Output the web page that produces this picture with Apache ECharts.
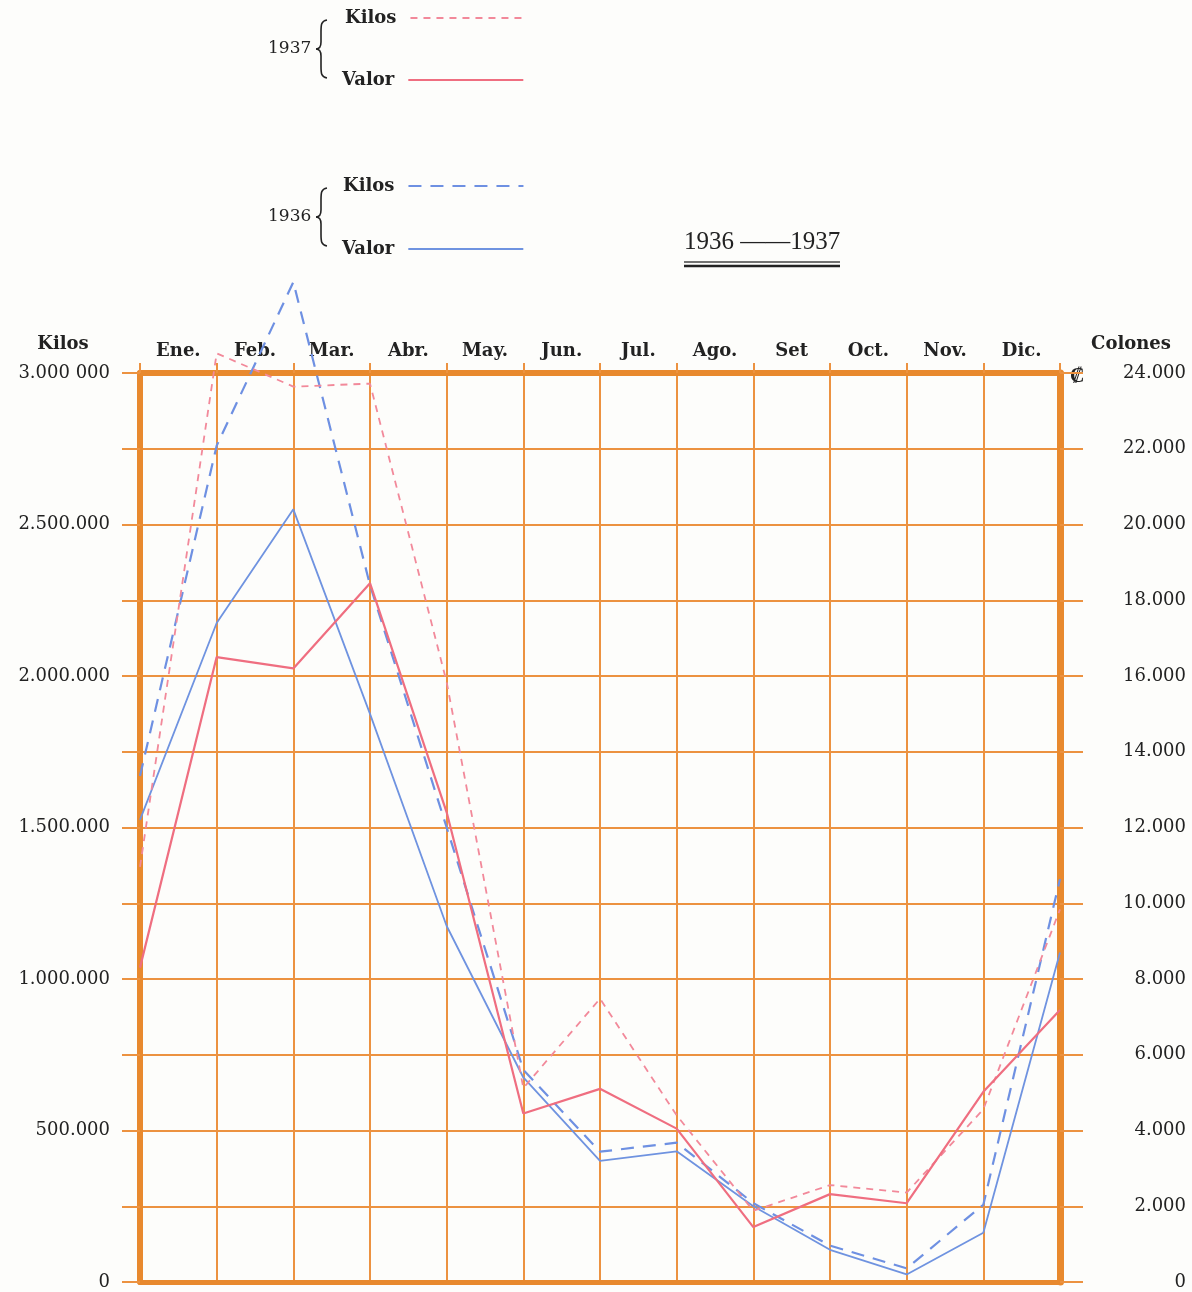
<!DOCTYPE html>
<html>
<head>
<meta charset="utf-8">
<script src="https://cdn.jsdelivr.net/npm/echarts@6/dist/echarts.min.js"></script>
<style>
  html, body { margin: 0; padding: 0; background: #fdfdfb; }
  #chart { width: 1192px; height: 1292px; }
</style>
</head>
<body>
<div id="chart"></div>
<script>
// ---- data ----
const months = ['Ene.', 'Feb.', 'Mar.', 'Abr.', 'May.', 'Jun.', 'Jul.', 'Ago.', 'Set', 'Oct.', 'Nov.', 'Dic.'];
const pointDates = ['1 Ene', '1 Feb', '1 Mar', '1 Abr', '1 May', '1 Jun', '1 Jul', '1 Ago', '1 Set', '1 Oct', '1 Nov', '1 Dic', '31 Dic'];
const kilos1937 = [1370000, 3065000, 2955000, 2965000, 1980000, 640000, 935000, 550000, 235000, 320000, 295000, 570000, 1230000];
const valor1937 = [8300, 16500, 16200, 18450, 12400, 4450, 5100, 4050, 1450, 2320, 2080, 5020, 7180];
const kilos1936 = [1670000, 2760000, 3300000, 2300000, 1500000, 700000, 430000, 460000, 260000, 120000, 45000, 255000, 1330000];
const valor1936 = [12200, 17400, 20400, 15000, 9400, 5400, 3200, 3450, 2000, 850, 200, 1300, 8700];
const kilosTicks = [0, 500000, 1000000, 1500000, 2000000, 2500000, 3000000];
const kilosTickLabels = ['0', '500.000', '1.000.000', '1.500.000', '2.000.000', '2.500.000', '3.000 000'];
const colonesTicks = [0, 2000, 4000, 6000, 8000, 10000, 12000, 14000, 16000, 18000, 20000, 22000, 24000];
const colonesTickLabels = ['0', '2.000', '4.000', '6.000', '8.000', '10.000', '12.000', '14.000', '16.000', '18.000', '20.000', '22.000', '24.000'];

// ---- styles ----
const SERIF = 'DejaVu Serif';
const INK = '#222222';
const GRID = '#EC9240';
const BORDER = '#E8892E';
const PINK = '#EF6E80';
const PINK_D = '#F2899A';
const BLUE = '#6F93E0';
const BLUE_D = '#6E90E2';

const chart = echarts.init(document.getElementById('chart'), null, { renderer: 'canvas' });

function legendFor(name, left, top) {
  return {
    data: [name],
    left: left, top: top,
    padding: 0,
    orient: 'horizontal',
    align: 'right',
    itemWidth: 115, itemHeight: 12,
    selectedMode: false,
    itemStyle: { opacity: 0 },
    formatter: n => n.split(' ')[1] + '\u2002',
    textStyle: { fontFamily: SERIF, fontWeight: 'bold', fontSize: 18, color: INK }
  };
}

// curly brace made of curve pieces (decoration of the legend)
function brace(top, bottom) {
  const mid = (top + bottom) / 2;
  const xs = 321, xt = 316, xe = 327;
  const st = { stroke: INK, lineWidth: 1.6, fill: null };
  return [
    { type: 'bezierCurve', shape: { x1: xe, y1: top, cpx1: xs, cpy1: top + 1, cpx2: xs, cpy2: top + 5, x2: xs, y2: top + 12 }, style: st },
    { type: 'line', shape: { x1: xs, y1: top + 12, x2: xs, y2: mid - 7 }, style: st },
    { type: 'bezierCurve', shape: { x1: xs, y1: mid - 7, cpx1: xs, cpy1: mid - 2, cpx2: xt + 3, cpy2: mid, x2: xt, y2: mid }, style: st },
    { type: 'bezierCurve', shape: { x1: xt, y1: mid, cpx1: xt + 3, cpy1: mid, cpx2: xs, cpy2: mid + 2, x2: xs, y2: mid + 7 }, style: st },
    { type: 'line', shape: { x1: xs, y1: mid + 7, x2: xs, y2: bottom - 12 }, style: st },
    { type: 'bezierCurve', shape: { x1: xs, y1: bottom - 12, cpx1: xs, cpy1: bottom - 5, cpx2: xs, cpy2: bottom - 1, x2: xe, y2: bottom }, style: st }
  ];
}

const option = {
  backgroundColor: '#fdfdfb',
  animation: false,
  legend: [
    legendFor('1937 Kilos', 345, 9),
    legendFor('1937 Valor', 342, 71),
    legendFor('1936 Kilos', 343, 177),
    legendFor('1936 Valor', 342, 240)
  ],
  grid: { left: 140, right: 132, top: 373, bottom: 10, containLabel: false },
  xAxis: [
    {
      type: 'category', data: pointDates, boundaryGap: false, position: 'bottom',
      axisLine: { show: true, onZero: false, lineStyle: { color: BORDER, width: 5 } },
      axisTick: { show: false }, axisLabel: { show: false },
      splitLine: { show: true, lineStyle: { color: GRID, width: 2 } }
    },
    {
      type: 'category', data: months, boundaryGap: true, position: 'top',
      axisLine: { show: true, onZero: false, lineStyle: { color: BORDER, width: 6 } },
      axisTick: { show: true, length: 10, lineStyle: { color: GRID, width: 2 } },
      axisLabel: { margin: 13, fontFamily: SERIF, fontWeight: 'bold', fontSize: 18, color: INK },
      splitLine: { show: false }
    }
  ],
  yAxis: [
    {
      type: 'value', min: 0, max: 3000000, interval: 250000, position: 'left',
      name: 'Kilos', nameLocation: 'end', nameGap: 20,
      nameTextStyle: { fontFamily: SERIF, fontWeight: 'bold', fontSize: 18, color: INK, align: 'center', padding: [0, 154, 0, 0] },
      axisLine: { show: true, onZero: false, lineStyle: { color: BORDER, width: 6 } },
      axisTick: { show: true, length: 18, lineStyle: { color: GRID, width: 2 } },
      axisLabel: {
        margin: 30, fontFamily: SERIF, fontSize: 18, color: INK,
        formatter: v => { const i = kilosTicks.indexOf(v); return i < 0 ? '' : kilosTickLabels[i]; }
      },
      splitLine: { show: true, lineStyle: { color: GRID, width: 2 } }
    },
    {
      type: 'value', min: 0, max: 24000, interval: 2000, position: 'right',
      name: 'Colones', nameLocation: 'end', nameGap: 20,
      nameTextStyle: { fontFamily: SERIF, fontWeight: 'bold', fontSize: 18, color: INK, align: 'center', padding: [0, 0, 0, 142] },
      axisLine: { show: true, onZero: false, lineStyle: { color: BORDER, width: 7 } },
      axisTick: { show: true, length: 23, lineStyle: { color: GRID, width: 2 } },
      axisLabel: {
        margin: 126, align: 'right', fontFamily: SERIF, fontSize: 18, color: INK,
        formatter: v => { const i = colonesTicks.indexOf(v); return i < 0 ? '' : colonesTickLabels[i]; }
      },
      splitLine: { show: false }
    }
  ],
  series: [
    { name: '1936 Kilos', type: 'line', xAxisIndex: 0, yAxisIndex: 0, data: kilos1936, symbol: 'none', showSymbol: false, clip: false,
      lineStyle: { color: BLUE_D, width: 2.2, type: [13, 9] }, itemStyle: { color: BLUE_D, opacity: 0 } },
    { name: '1936 Valor', type: 'line', xAxisIndex: 0, yAxisIndex: 1, data: valor1936, symbol: 'none', showSymbol: false, clip: false,
      lineStyle: { color: BLUE, width: 1.8 }, itemStyle: { color: BLUE, opacity: 0 } },
    { name: '1937 Kilos', type: 'line', xAxisIndex: 0, yAxisIndex: 0, data: kilos1937, symbol: 'none', showSymbol: false, clip: false,
      lineStyle: { color: PINK_D, width: 1.8, type: [7, 6] }, itemStyle: { color: PINK_D, opacity: 0 } },
    { name: '1937 Valor', type: 'line', xAxisIndex: 0, yAxisIndex: 1, data: valor1937, symbol: 'none', showSymbol: false, clip: false,
      lineStyle: { color: PINK, width: 2.2 }, itemStyle: { color: PINK, opacity: 0 } }
  ],
  graphic: [
    { type: 'text', left: 268, top: 40, style: { text: '1937', font: '17px "DejaVu Serif"', fill: INK } },
    { type: 'text', left: 268, top: 208, style: { text: '1936', font: '17px "DejaVu Serif"', fill: INK } },
    ...brace(20, 78),
    ...brace(188, 246),
    { type: 'text', left: 684, top: 230, style: { text: '1936 ——1937', font: '25px "Liberation Serif"', fill: INK } },
    { type: 'line', shape: { x1: 684, y1: 262, x2: 840, y2: 262 }, style: { stroke: '#444', lineWidth: 1.3 } },
    { type: 'line', shape: { x1: 684, y1: 266, x2: 840, y2: 266 }, style: { stroke: INK, lineWidth: 2.4 } },
    { type: 'text', left: 1070, top: 367, style: { text: '₡', font: 'bold 20px "DejaVu Serif"', fill: INK } }
  ]
};

chart.setOption(option);
</script>
</body>
</html>
